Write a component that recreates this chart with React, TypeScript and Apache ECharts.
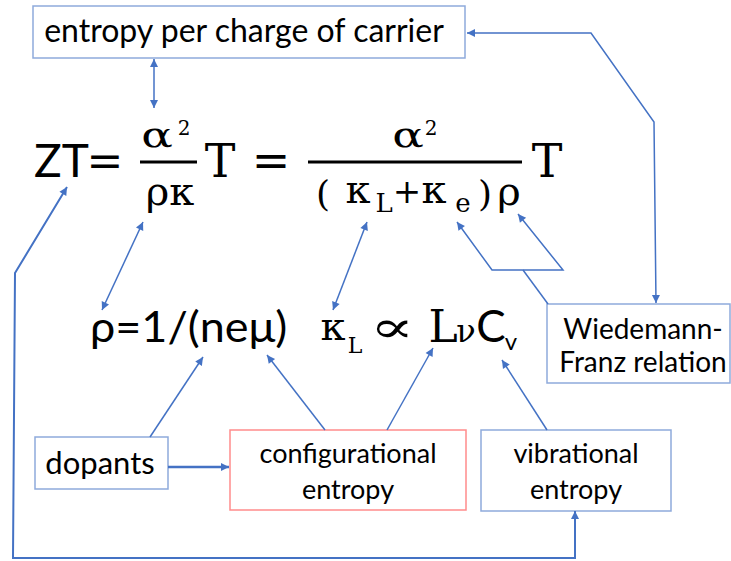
import React, { useEffect, useRef } from "react";
import * as echarts from "echarts";

// ---- texts ----
const topBoxText = ["entropy per charge of carrier"];
const dopantsText = ["dopants"];
const configText = ["configurational", "entropy"];
const vibrText = ["vibrational", "entropy"];
const wfText = ["Wiedemann-", "Franz relation"];

const BLUE = "#4472C4";
const BOX_BLUE = "#8FAADC";
const BOX_RED = "#FF8C8C";
const SANS = "Lato, 'Open Sans', sans-serif";
const SERIF = "'DejaVu Serif', serif";

type P = [number, number];

function txt(text: string, x: number, base: number, fs: number, fam: string, align = "center", sx = 1) {
  const kk = fam === SANS ? 0.387 : 0.346;
  return {
    type: "text",
    x,
    y: base - kk * fs,
    scaleX: sx,
    silent: true,
    style: {
      text,
      font: `${fs}px ${fam}`,
      fill: "#000",
      textAlign: align,
      align,
      textVerticalAlign: "middle",
      verticalAlign: "middle",
    },
  };
}

function head(tip: P, from: P, len = 8, w = 4, color = BLUE) {
  const dx = tip[0] - from[0];
  const dy = tip[1] - from[1];
  const d = Math.hypot(dx, dy) || 1;
  const ux = dx / d, uy = dy / d;
  const bx = tip[0] - ux * len, by = tip[1] - uy * len;
  return {
    type: "polygon",
    silent: true,
    shape: { points: [tip, [bx - uy * w, by + ux * w], [bx + uy * w, by - ux * w]] },
    style: { fill: color, stroke: "none" },
  };
}

function arrow(points: P[], start: boolean, end: boolean, lw = 1.5, color = BLUE) {
  const els: any[] = [
    { type: "polyline", silent: true, shape: { points }, style: { stroke: color, lineWidth: lw, fill: "none" } },
  ];
  if (start) els.push(head(points[0], points[1], 8, 4, color));
  if (end) els.push(head(points[points.length - 1], points[points.length - 2], 8, 4, color));
  return els;
}

function box(x1: number, y1: number, x2: number, y2: number, color: string) {
  return {
    type: "rect",
    silent: true,
    shape: { x: x1, y: y1, width: x2 - x1, height: y2 - y1 },
    style: { fill: "#fff", stroke: color, lineWidth: 1.5 },
  };
}

function fracLine(x1: number, x2: number, y: number) {
  return { type: "rect", silent: true, shape: { x: x1, y: y - 1.5, width: x2 - x1, height: 3 }, style: { fill: "#000" } };
}

function buildElements() {
  const els: any[] = [];
  // boxes
  els.push(box(33, 6, 465, 58, BOX_BLUE));
  els.push(txt(topBoxText[0], 244, 42, 32, SANS));
  els.push(box(35, 437, 168, 489, BOX_BLUE));
  els.push(txt(dopantsText[0], 100, 474, 31, SANS));
  els.push(box(230, 430, 466, 510, BOX_RED));
  els.push(txt(configText[0], 348, 463, 27, SANS));
  els.push(txt(configText[1], 348, 499, 27, SANS));
  els.push(box(481, 430, 671, 511, BOX_BLUE));
  els.push(txt(vibrText[0], 576, 463, 27, SANS));
  els.push(txt(vibrText[1], 576, 499, 27, SANS));
  els.push(box(547, 304, 730, 383, BOX_BLUE));
  els.push(txt(wfText[0], 643, 339, 28, SANS));
  els.push(txt(wfText[1], 643, 372, 28, SANS));

  // formula row 1
  els.push(txt("ZT", 34, 177, 46, SANS, "left"));
  els.push(txt("=", 105, 176, 44, SERIF));
  els.push(txt("α", 157, 147, 36, SERIF, "center", 1.3));
  els.push(txt("2", 184, 135, 20, SERIF));
  els.push(fracLine(140, 197, 162));
  els.push(txt("ρκ", 170, 205, 40, SERIF));
  els.push(txt("T", 220, 177, 46, SERIF));
  els.push(txt("=", 271, 176, 46, SERIF));
  els.push(txt("α", 408, 147, 36, SERIF, "center", 1.3));
  els.push(txt("2", 431, 135, 20, SERIF));
  els.push(fracLine(308, 522, 162));
  els.push(txt("(", 323, 206, 36, SERIF));
  els.push(txt("κ", 358, 203, 40, SERIF));
  els.push(txt("L", 384, 212, 26, SERIF));
  els.push(txt("+", 407, 203, 34, SERIF));
  els.push(txt("κ", 434, 203, 40, SERIF));
  els.push(txt("e", 463, 212, 26, SERIF));
  els.push(txt(")", 485, 206, 36, SERIF));
  els.push(txt("ρ", 509, 205, 40, SERIF));
  els.push(txt("T", 547, 177, 46, SERIF));

  // formula row 2
  els.push(txt("ρ=1/(neμ)", 90, 342, 42, SANS, "left", 1.07));
  els.push(txt("κ", 333, 340, 40, SERIF));
  els.push(txt("L", 355, 353, 22, SERIF));
  els.push(txt("∝", 392, 342, 44, SERIF, "center", 1.5));
  els.push(txt("L", 443, 342, 44, SERIF));
  els.push(txt("ν", 466, 342, 32, SERIF));
  els.push(txt("C", 491, 342, 44, SANS));
  els.push(txt("v", 511, 350, 24, SANS));

  // arrows
  els.push(...arrow([[154, 59], [154, 108]], true, true));
  els.push(...arrow([[467, 33], [591, 33], [654, 122], [656, 303]], true, true));
  els.push(...arrow([[143, 222], [102, 310]], true, true));
  els.push(...arrow([[367, 222], [333, 310]], true, true));
  els.push(...arrow([[457, 222], [492, 270], [563, 270], [518, 214]], true, true));
  els.push(...arrow([[523, 270], [548, 304]], false, false));
  els.push(...arrow([[150, 437], [203, 357]], false, true));
  els.push(...arrow([[325, 430], [267, 355]], false, true));
  els.push(...arrow([[387, 430], [433, 348]], false, true));
  els.push(...arrow([[547, 430], [502, 360]], false, true));
  els.push(...arrow([[168, 467], [229, 467]], false, true, 2.5));
  els.push(...arrow([[575, 511], [575, 558], [13, 558], [15, 273], [67, 187]], true, true, 2));
  return els;
}

export default function App() {
  const ref = useRef<HTMLDivElement>(null);
  useEffect(() => {
    document.body.style.margin = "0";
    document.body.style.background = "#fff";
    const chart = echarts.init(ref.current!, null, { renderer: "svg" });
    chart.setOption({
      animation: false,
      backgroundColor: "#fff",
      graphic: { elements: buildElements() },
    });
    return () => chart.dispose();
  }, []);
  return <div ref={ref} style={{ width: 731, height: 561 }} />;
}
